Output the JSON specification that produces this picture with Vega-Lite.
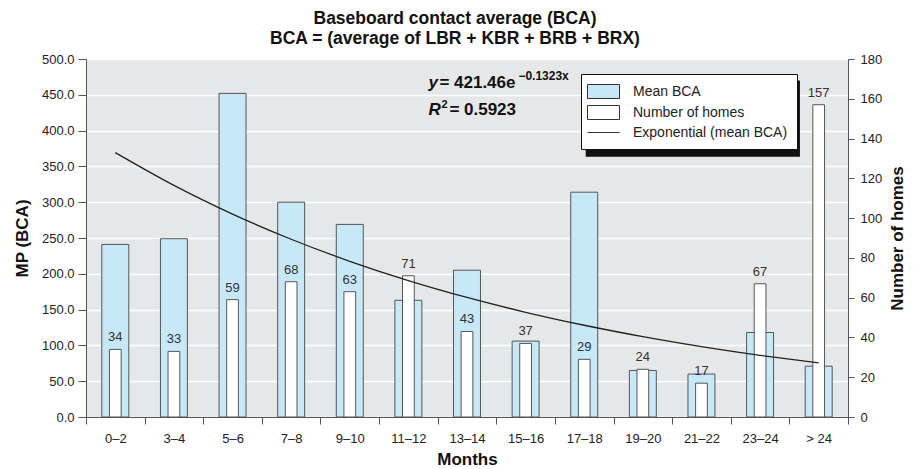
{
  "$schema": "https://vega.github.io/schema/vega-lite/v6.json",
  "width": 762,
  "height": 358,
  "autosize": {"type": "none"},
  "padding": {"left": 86, "top": 59, "right": 69, "bottom": 52},
  "background": "white",
  "config": {
    "font": "Liberation Sans",
    "view": {"fill": "#e6e7e8", "stroke": null},
    "axis": {
      "labelFont": "Liberation Sans",
      "labelFontSize": 13,
      "labelColor": "#222",
      "titleFont": "Liberation Sans",
      "titleFontSize": 17,
      "titleFontWeight": "bold",
      "titleColor": "#111",
      "domainColor": "#555",
      "tickColor": "#555",
      "gridColor": "#ffffff",
      "gridWidth": 1.5,
      "labelOverlap": false
    }
  },
  "title": {
    "text": ["Baseboard contact average (BCA)", "BCA = (average of LBR + KBR + BRB + BRX)"],
    "font": "Liberation Sans",
    "fontSize": 17.5,
    "fontWeight": "bold",
    "color": "#111",
    "anchor": "middle",
    "lineHeight": 20,
    "offset": 5.5,
    "dx": -12
  },
  "data": {
    "values": [
      {"months": "0–2", "bca": 241, "homes": 34, "trend": 369.23},
      {"months": "3–4", "bca": 249, "homes": 33, "trend": 323.48},
      {"months": "5–6", "bca": 452, "homes": 59, "trend": 283.39},
      {"months": "7–8", "bca": 300, "homes": 68, "trend": 248.27},
      {"months": "9–10", "bca": 269, "homes": 63, "trend": 217.51},
      {"months": "11–12", "bca": 163, "homes": 71, "trend": 190.55},
      {"months": "13–14", "bca": 205, "homes": 43, "trend": 166.94},
      {"months": "15–16", "bca": 106, "homes": 37, "trend": 146.25},
      {"months": "17–18", "bca": 314, "homes": 29, "trend": 128.13},
      {"months": "19–20", "bca": 65, "homes": 24, "trend": 112.25},
      {"months": "21–22", "bca": 60, "homes": 17, "trend": 98.34},
      {"months": "23–24", "bca": 118, "homes": 67, "trend": 86.15},
      {"months": "> 24", "bca": 71, "homes": 157, "trend": 75.48}
    ]
  },
  "encoding": {
    "x": {
      "field": "months",
      "type": "nominal",
      "sort": null,
      "scale": {"paddingInner": 0, "paddingOuter": 0},
      "axis": {
        "title": "Months",
        "labelAngle": 0,
        "tickBand": "extent",
        "tickSize": 7,
        "labelPadding": 8,
        "titlePadding": 6,
        "grid": false
      }
    }
  },
  "layer": [
    {
      "mark": {"type": "bar", "width": {"band": 0.46}, "stroke": "#555", "strokeWidth": 1},
      "encoding": {
        "y": {
          "field": "bca",
          "type": "quantitative",
          "scale": {"domain": [0, 500], "nice": false},
          "axis": {
            "orient": "left",
            "title": "MP (BCA)",
            "format": ".1f",
            "values": [0, 50, 100, 150, 200, 250, 300, 350, 400, 450, 500],
            "tickSize": 8,
            "labelPadding": 4,
            "titlePadding": 10,
            "grid": true,
            "labelOverlap": false
          }
        },
        "fill": {
          "datum": "Mean BCA",
          "type": "nominal",
          "scale": {
            "domain": ["Mean BCA", "Number of homes", "Exponential (mean BCA)"],
            "range": ["#c7e9f7", "#ffffff", "#333333"]
          },
          "legend": {
            "title": null,
            "orient": "none",
            "legendX": 495,
            "legendY": 15,
            "fillColor": "#ffffff",
            "strokeColor": "#111111",
            "padding": 9,
            "symbolSize": 256,
            "symbolOffset": 5,
            "labelOffset": 21,
            "rowPadding": 2,
            "labelFont": "Liberation Sans",
            "labelFontSize": 14,
            "labelColor": "#222",
            "symbolStrokeWidth": 1,
            "zindex": 2,
            "encoding": {
              "symbols": {
                "shape": {
                  "condition": {"test": "datum.value === 'Exponential (mean BCA)'", "value": "M-2,0L2,0"},
                  "value": "M-2,-0.875L2,-0.875L2,0.875L-2,0.875Z"
                },
                "stroke": {"value": "#333333"},
                "strokeWidth": {"value": 1}
              }
            }
          }
        }
      }
    },
    {
      "mark": {"type": "bar", "width": {"band": 0.2}, "stroke": "#555", "strokeWidth": 1},
      "encoding": {
        "y": {
          "field": "homes",
          "type": "quantitative",
          "scale": {"domain": [0, 180], "nice": false},
          "axis": {
            "orient": "right",
            "title": "Number of homes",
            "titleAngle": -90,
            "titleBaseline": "top",
            "values": [0, 20, 40, 60, 80, 100, 120, 140, 160, 180],
            "tickSize": 6,
            "labelPadding": 6,
            "titlePadding": 8,
            "grid": false,
            "labelOverlap": false
          }
        },
        "fill": {"datum": "Number of homes", "type": "nominal"}
      }
    },
    {
      "mark": {"type": "line", "strokeWidth": 1.3, "interpolate": "monotone", "color": "#222"},
      "encoding": {
        "y": {"field": "trend", "type": "quantitative", "scale": {"domain": [0, 500], "nice": false}, "axis": null}
      }
    },
    {
      "mark": {"type": "text", "baseline": "bottom", "dy": -5, "fontSize": 13, "color": "#333"},
      "encoding": {
        "y": {"field": "homes", "type": "quantitative", "scale": {"domain": [0, 180], "nice": false}, "axis": null},
        "text": {"field": "homes", "type": "quantitative"}
      }
    },
    {
      "data": {"values": [{"t": "y", "v": 459}, {"t": "R", "v": 421.5}]},
      "mark": {"type": "text", "align": "left", "baseline": "alphabetic", "dx": 20, "fontSize": 17, "fontWeight": "bold", "fontStyle": "italic", "color": "#111"},
      "encoding": {
        "x": {"datum": "11–12"},
        "y": {"field": "v", "type": "quantitative", "scale": {"domain": [0, 500], "nice": false}, "axis": null},
        "text": {"field": "t"}
      }
    },
    {
      "data": {"values": [{"t": "= 421.46e", "v": 459}]},
      "mark": {"type": "text", "align": "left", "baseline": "alphabetic", "dx": 31, "fontSize": 17, "fontWeight": "bold", "color": "#111"},
      "encoding": {
        "x": {"datum": "11–12"},
        "y": {"field": "v", "type": "quantitative", "scale": {"domain": [0, 500], "nice": false}, "axis": null},
        "text": {"field": "t"}
      }
    },
    {
      "data": {"values": [{"t": "−0.1323x", "v": 470}]},
      "mark": {"type": "text", "align": "left", "baseline": "alphabetic", "dx": 110, "fontSize": 12, "fontWeight": "bold", "color": "#111"},
      "encoding": {
        "x": {"datum": "11–12"},
        "y": {"field": "v", "type": "quantitative", "scale": {"domain": [0, 500], "nice": false}, "axis": null},
        "text": {"field": "t"}
      }
    },
    {
      "data": {"values": [{"t": "2", "v": 432}]},
      "mark": {"type": "text", "align": "left", "baseline": "alphabetic", "dx": 33, "fontSize": 11, "fontWeight": "bold", "color": "#111"},
      "encoding": {
        "x": {"datum": "11–12"},
        "y": {"field": "v", "type": "quantitative", "scale": {"domain": [0, 500], "nice": false}, "axis": null},
        "text": {"field": "t"}
      }
    },
    {
      "data": {"values": [{"t": "= 0.5923", "v": 421.5}]},
      "mark": {"type": "text", "align": "left", "baseline": "alphabetic", "dx": 41, "fontSize": 17, "fontWeight": "bold", "color": "#111"},
      "encoding": {
        "x": {"datum": "11–12"},
        "y": {"field": "v", "type": "quantitative", "scale": {"domain": [0, 500], "nice": false}, "axis": null},
        "text": {"field": "t"}
      }
    },
    {
      "data": {"values": [{"from": "17–18", "to": "> 24", "top": 470, "bottom": 363.5}]},
      "mark": {"type": "rect", "color": "#111111"},
      "encoding": {
        "x": {"field": "from", "type": "nominal", "sort": null, "bandPosition": 0.525},
        "x2": {"field": "to", "bandPosition": 0.18},
        "y": {"field": "top", "type": "quantitative", "scale": {"domain": [0, 500], "nice": false}, "axis": null},
        "y2": {"field": "bottom"}
      }
    }
  ],
  "resolve": {"scale": {"y": "independent"}}
}
